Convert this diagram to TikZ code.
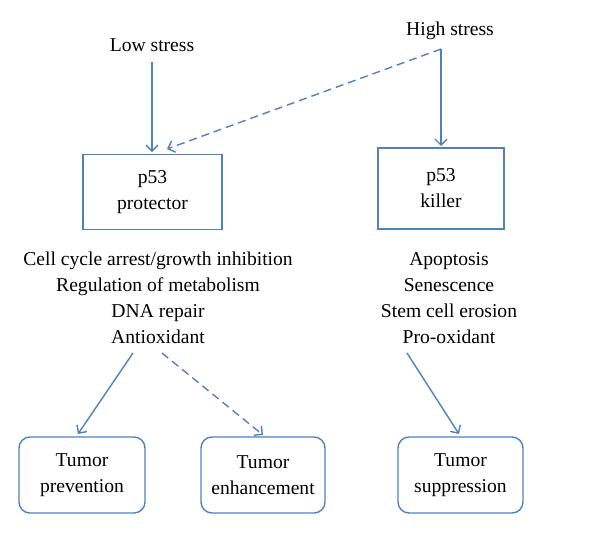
\documentclass[tikz,border=0pt]{standalone}
\usepackage{fontspec}
\setmainfont{Liberation Serif}
\usetikzlibrary{arrows.meta}
\definecolor{lineblue}{HTML}{4F81BD}
\begin{document}
\begin{tikzpicture}[x=1pt,y=-1pt,
  font=\fontsize{19.6}{26}\selectfont,
  txt/.style={align=center,inner sep=0pt,text=black},
  sqbox/.style={draw=lineblue,line width=1.4pt,align=center,inner sep=0pt},
  rbox/.style={draw=lineblue,line width=1.4pt,rounded corners=11pt,align=center,inner sep=0pt},
  conn/.style={draw=lineblue,line width=1.4pt,-{Straight Barb[length=6pt,width=12pt]}},
  dconn/.style={conn,dash pattern=on 8pt off 5pt}]
\useasboundingbox (0,0) rectangle (600,533);
% top labels
\node[txt] (low) at (152,45) {Low stress};
\node[txt] (high) at (450,31) {High stress};
\coordinate (lowS) at (152,62);
\coordinate (highS) at (441,49);
% p53 boxes
\node[sqbox,minimum width=139pt,minimum height=75pt] (prot) at (152.5,192) {p53\\protector};
\node[sqbox,minimum width=126pt,minimum height=81pt] (kill) at (441,188.5) {p53\\killer};
\coordinate (protT) at (152,152);
\coordinate (protTd) at (167,149);
\coordinate (killT) at (441,146);
% effect lists
\node[txt] (leftlist) at (158,298) {Cell cycle arrest/growth inhibition\\Regulation of metabolism\\DNA repair\\Antioxidant};
\node[txt] (rightlist) at (449,298) {Apoptosis\\Senescence\\Stem cell erosion\\Pro-oxidant};
\coordinate (l1) at (133,353);
\coordinate (l2) at (162,353);
\coordinate (r1) at (407,353);
% outcome boxes
\node[rbox,minimum width=126pt,minimum height=76pt] (prev) at (82,475) {Tumor\\prevention};
\node[rbox,minimum width=124pt,minimum height=76pt] (enh) at (263,475) {Tumor\\enhancement};
\node[rbox,minimum width=125pt,minimum height=76pt] (supp) at (460.5,475) {Tumor\\suppression};
\coordinate (prevT) at (78,434);
\coordinate (enhT) at (263,435);
\coordinate (suppT) at (459,434);
% connectors
\draw[conn] (lowS) -- (protT);
\draw[conn] (highS) -- (killT);
\draw[dconn] (highS) -- (protTd);
\draw[conn] (l1) -- (prevT);
\draw[dconn] (l2) -- (enhT);
\draw[conn] (r1) -- (suppT);
\end{tikzpicture}
\end{document}
